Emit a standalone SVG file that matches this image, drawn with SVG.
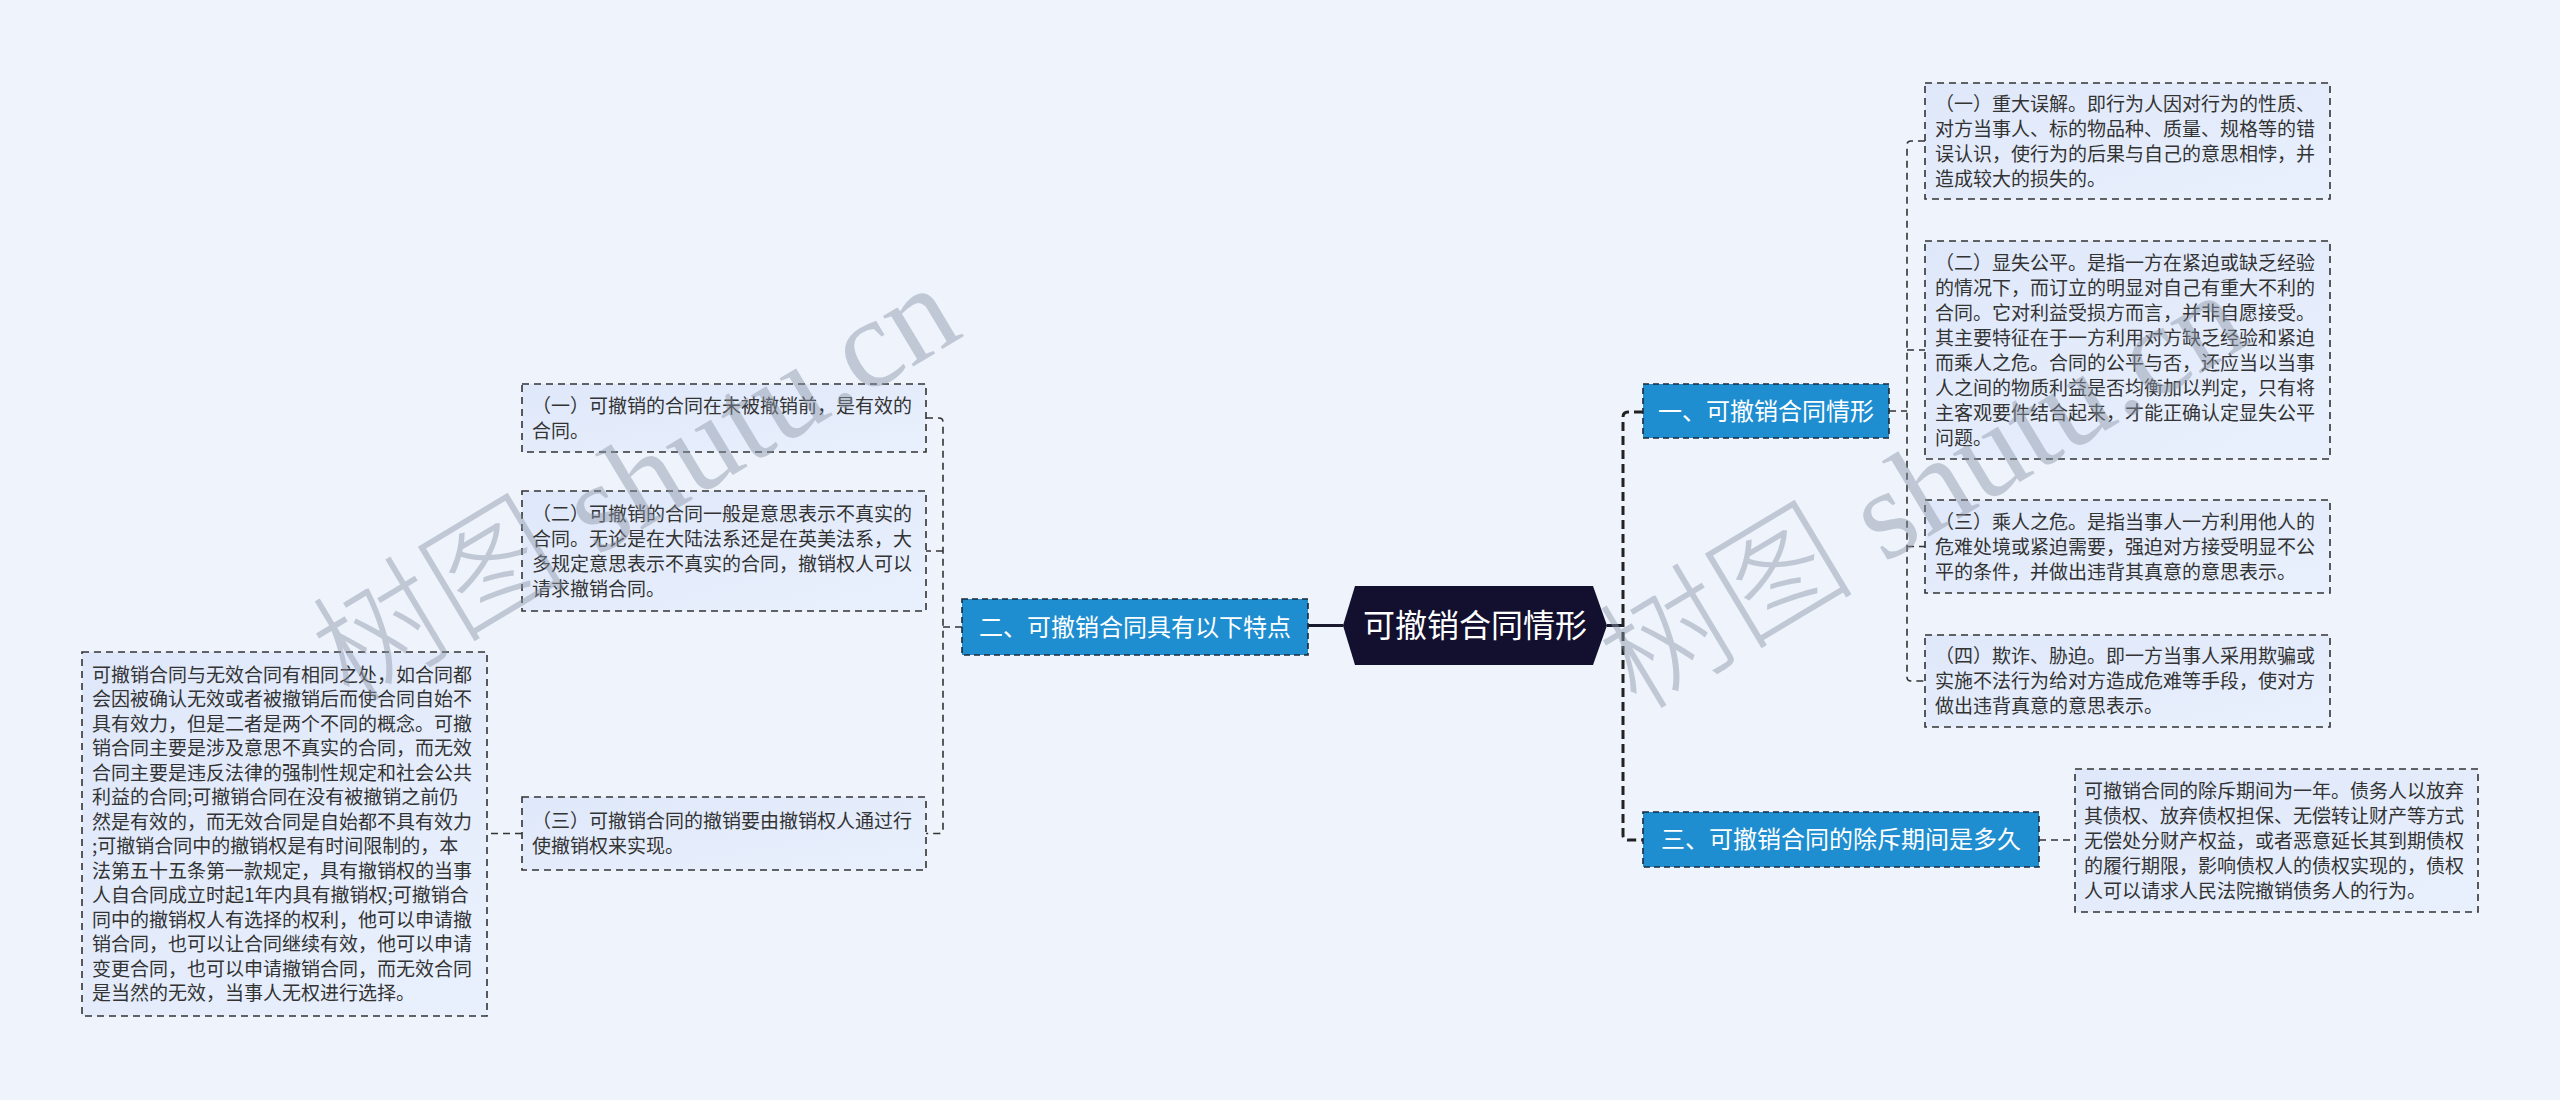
<svg xmlns="http://www.w3.org/2000/svg" width="2560" height="1100" viewBox="0 0 2560 1100">
<defs>
<linearGradient id="leafFill" x1="0" y1="0" x2="1" y2="1">
<stop offset="0" stop-color="#dfe8fa"/>
<stop offset="1" stop-color="#e9f0fd"/>
</linearGradient>
<style>
.leaf rect{fill:url(#leafFill);stroke:#333;stroke-width:1.6;stroke-dasharray:7 5}
.leaf text{font-family:"Noto Sans CJK SC","Microsoft YaHei",sans-serif;font-size:19px;fill:#333}
.branch rect{fill:#1e8ed0;stroke:#1b2a3a;stroke-width:1.6;stroke-dasharray:6 4}
.branch text{font-family:"Noto Sans CJK SC",sans-serif;font-size:24px;fill:#fff;text-anchor:middle}
.root text{font-family:"Noto Sans CJK SC",sans-serif;font-size:32px;fill:#fff;text-anchor:middle}
.thin{fill:none;stroke:#333;stroke-width:1.6;stroke-dasharray:7 5}
.thick{fill:none;stroke:#222;stroke-width:3;stroke-dasharray:9 5}
.solid{fill:none;stroke:#1a1a2e;stroke-width:3}
.wm{font-family:"Liberation Serif","Noto Sans CJK SC",serif;font-size:128px;font-weight:300;fill:#8c96a6;opacity:0.45}
</style>
</defs>
<rect x="0" y="0" width="2560" height="1100" fill="#eef3fc"/>

<g id="connectors">
<path class="solid" d="M1607,625.5 H1623"/>
<path class="thick" d="M1643,412 H1628 Q1623,412 1623,417 V835 Q1623,840 1628,840 H1643"/>
<path class="solid" d="M1343,625.5 H1308"/>
<path class="thin" d="M1889,411 H1907"/>
<path class="thin" d="M1925,141 H1911 Q1907,141 1907,145 V677 Q1907,681 1911,681 H1925"/>
<path class="thin" d="M1907,350 H1925 M1907,546.5 H1925"/>
<path class="thin" d="M2039,840 H2075"/>
<path class="thin" d="M962,627 H943"/>
<path class="thin" d="M926,418 H939 Q943,418 943,422 V829.5 Q943,833.5 939,833.5 H926"/>
<path class="thin" d="M943,551 H926"/>
<path class="thin" d="M522,833.5 H487"/>
</g>

<g id="root" class="root">
<polygon points="1343,625.5 1355,586 1593,586 1607,625.5 1593,665 1355,665" fill="#12102e"/>
<text x="1475" y="637">可撤销合同情形</text>
</g>

<g id="branch1" class="branch">
<rect x="1643" y="384" width="246" height="54"/>
<text x="1766" y="420">一、可撤销合同情形</text>
</g>
<g id="branch2" class="branch">
<rect x="962" y="599" width="346" height="56"/>
<text x="1135" y="636">二、可撤销合同具有以下特点</text>
</g>
<g id="branch3" class="branch">
<rect x="1643" y="812" width="396" height="55"/>
<text x="1841" y="848">三、可撤销合同的除斥期间是多久</text>
</g>

<g id="r1" class="leaf">
<rect x="1925" y="83" width="405" height="116"/>
<text x="1935" y="110.5">（一）重大误解。即行为人因对行为的性质、</text>
<text x="1935" y="135.5">对方当事人、标的物品种、质量、规格等的错</text>
<text x="1935" y="160.5">误认识，使行为的后果与自己的意思相悖，并</text>
<text x="1935" y="185.5">造成较大的损失的。</text>
</g>
<g id="r2" class="leaf">
<rect x="1925" y="241" width="405" height="218"/>
<text x="1935" y="269.5">（二）显失公平。是指一方在紧迫或缺乏经验</text>
<text x="1935" y="294.5">的情况下，而订立的明显对自己有重大不利的</text>
<text x="1935" y="319.5">合同。它对利益受损方而言，并非自愿接受。</text>
<text x="1935" y="344.5">其主要特征在于一方利用对方缺乏经验和紧迫</text>
<text x="1935" y="369.5">而乘人之危。合同的公平与否，还应当以当事</text>
<text x="1935" y="394.5">人之间的物质利益是否均衡加以判定，只有将</text>
<text x="1935" y="419.5">主客观要件结合起来，才能正确认定显失公平</text>
<text x="1935" y="444.5">问题。</text>
</g>
<g id="r3" class="leaf">
<rect x="1925" y="500" width="405" height="93"/>
<text x="1935" y="528.5">（三）乘人之危。是指当事人一方利用他人的</text>
<text x="1935" y="553.5">危难处境或紧迫需要，强迫对方接受明显不公</text>
<text x="1935" y="578.5">平的条件，并做出违背其真意的意思表示。</text>
</g>
<g id="r4" class="leaf">
<rect x="1925" y="635" width="405" height="92"/>
<text x="1935" y="663">（四）欺诈、胁迫。即一方当事人采用欺骗或</text>
<text x="1935" y="688">实施不法行为给对方造成危难等手段，使对方</text>
<text x="1935" y="713">做出违背真意的意思表示。</text>
</g>
<g id="r5" class="leaf">
<rect x="2075" y="769" width="403" height="143"/>
<text x="2084" y="797.5">可撤销合同的除斥期间为一年。债务人以放弃</text>
<text x="2084" y="822.5">其债权、放弃债权担保、无偿转让财产等方式</text>
<text x="2084" y="847.5">无偿处分财产权益，或者恶意延长其到期债权</text>
<text x="2084" y="872.5">的履行期限，影响债权人的债权实现的，债权</text>
<text x="2084" y="897.5">人可以请求人民法院撤销债务人的行为。</text>
</g>

<g id="l1" class="leaf">
<rect x="522" y="384" width="404" height="68"/>
<text x="532" y="412.5">（一）可撤销的合同在未被撤销前，是有效的</text>
<text x="532" y="437.5">合同。</text>
</g>
<g id="l2" class="leaf">
<rect x="522" y="491" width="404" height="120"/>
<text x="532" y="520.5">（二）可撤销的合同一般是意思表示不真实的</text>
<text x="532" y="545.5">合同。无论是在大陆法系还是在英美法系，大</text>
<text x="532" y="570.5">多规定意思表示不真实的合同，撤销权人可以</text>
<text x="532" y="595.5">请求撤销合同。</text>
</g>
<g id="l3" class="leaf">
<rect x="522" y="797" width="404" height="73"/>
<text x="532" y="828">（三）可撤销合同的撤销要由撤销权人通过行</text>
<text x="532" y="853">使撤销权来实现。</text>
</g>
<g id="l4" class="leaf">
<rect x="82" y="652" width="405" height="364"/>
<text x="92" y="681.75">可撤销合同与无效合同有相同之处，如合同都</text>
<text x="92" y="706.25">会因被确认无效或者被撤销后而使合同自始不</text>
<text x="92" y="730.75">具有效力，但是二者是两个不同的概念。可撤</text>
<text x="92" y="755.25">销合同主要是涉及意思不真实的合同，而无效</text>
<text x="92" y="779.75">合同主要是违反法律的强制性规定和社会公共</text>
<text x="92" y="804.25">利益的合同;可撤销合同在没有被撤销之前仍</text>
<text x="92" y="828.75">然是有效的，而无效合同是自始都不具有效力</text>
<text x="92" y="853.25">;可撤销合同中的撤销权是有时间限制的，本</text>
<text x="92" y="877.75">法第五十五条第一款规定，具有撤销权的当事</text>
<text x="92" y="902.25">人自合同成立时起1年内具有撤销权;可撤销合</text>
<text x="92" y="926.75">同中的撤销权人有选择的权利，他可以申请撤</text>
<text x="92" y="951.25">销合同，也可以让合同继续有效，他可以申请</text>
<text x="92" y="975.75">变更合同，也可以申请撤销合同，而无效合同</text>
<text x="92" y="1000.25">是当然的无效，当事人无权进行选择。</text>
</g>

<g id="watermarks">
<text class="wm" x="350" y="705" transform="rotate(-31 350 705)">树图 shutu.cn</text>
<text class="wm" x="1637" y="712" transform="rotate(-31 1637 712)">树图 shutu.cn</text>
</g>
</svg>
